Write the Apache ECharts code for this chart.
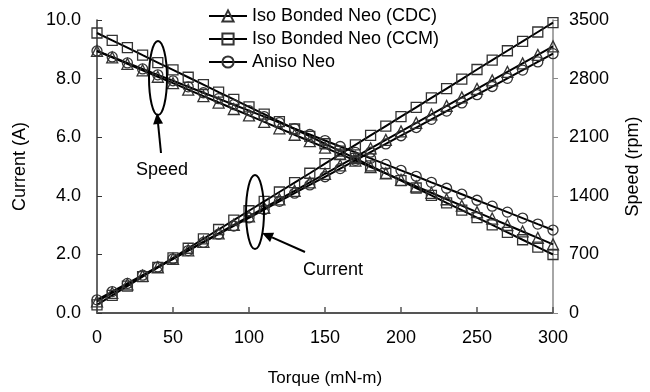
<!DOCTYPE html>
<html>
<head>
<meta charset="utf-8">
<script src="https://cdn.jsdelivr.net/npm/echarts@6/dist/echarts.min.js"></script>
<style>
  html, body { margin: 0; padding: 0; background: #fff; }
  #chart { width: 650px; height: 392px; }
</style>
</head>
<body>
<div id="chart"></div>
<script>
// torque steps (mN-m)
const torque = [0, 10, 20, 30, 40, 50, 60, 70, 80, 90, 100, 110, 120, 130, 140, 150,
  160, 170, 180, 190, 200, 210, 220, 230, 240, 250, 260, 270, 280, 290, 300]

const seriesNames = ['Iso Bonded Neo (CDC)', 'Iso Bonded Neo (CCM)', 'Aniso Neo']

// current (A)
const currentCDC = [0.40, 0.69, 0.98, 1.27, 1.56, 1.85, 2.14, 2.43, 2.72, 3.01, 3.30, 3.59, 3.88, 4.17, 4.46, 4.75,
  5.04, 5.33, 5.62, 5.91, 6.20, 6.49, 6.78, 7.07, 7.36, 7.65, 7.94, 8.23, 8.52, 8.81, 9.10]
const currentCCM = [0.28, 0.60, 0.92, 1.24, 1.56, 1.88, 2.21, 2.53, 2.85, 3.17, 3.49, 3.81, 4.13, 4.45, 4.77, 5.10,
  5.42, 5.74, 6.06, 6.38, 6.70, 7.02, 7.34, 7.66, 7.98, 8.31, 8.63, 8.95, 9.27, 9.59, 9.91]
const currentAniso = [0.45, 0.73, 1.01, 1.29, 1.57, 1.85, 2.13, 2.41, 2.69, 2.97, 3.25, 3.53, 3.81, 4.09, 4.37, 4.65,
  4.93, 5.21, 5.49, 5.77, 6.05, 6.33, 6.61, 6.89, 7.17, 7.45, 7.73, 8.01, 8.29, 8.57, 8.85]

// speed (rpm)
const speedCDC = [3130, 3053, 2976, 2899, 2822, 2745, 2668, 2591, 2514, 2437, 2360, 2283, 2206, 2129, 2052, 1975,
  1898, 1821, 1744, 1667, 1590, 1513, 1436, 1359, 1282, 1205, 1128, 1051, 974, 897, 820]
const speedCCM = [3345, 3257, 3169, 3080, 2992, 2904, 2816, 2728, 2639, 2551, 2463, 2375, 2287, 2198, 2110, 2022,
  1934, 1846, 1757, 1669, 1581, 1493, 1405, 1316, 1228, 1140, 1052, 964, 875, 787, 699]
const speedAniso = [3130, 3059, 2987, 2916, 2845, 2774, 2702, 2631, 2560, 2488, 2417, 2346, 2274, 2203, 2132, 2060,
  1989, 1918, 1847, 1775, 1704, 1633, 1561, 1490, 1419, 1347, 1276, 1205, 1134, 1062, 991]

const font = 'Arial, "Liberation Sans", sans-serif'
const symbols = ['triangle', 'rect', 'circle']

const chart = echarts.init(document.getElementById('chart'))

const makeSeries = (name, values, symbol, yAxisIndex) => ({
  name,
  type: 'line',
  yAxisIndex,
  data: torque.map((t, i) => [t, values[i]]),
  symbol,
  symbolSize: symbol === 'triangle' ? 11 : 10,
  showAllSymbol: true,
  lineStyle: { color: '#000', width: 2 },
  itemStyle: { color: 'rgba(255,255,255,0)', borderColor: '#333', borderWidth: 1.3 },
  emphasis: { disabled: true },
  animation: false
})

// arrow helper: line + filled head
const arrow = (x1, y1, x2, y2) => {
  const a = Math.atan2(y2 - y1, x2 - x1)
  const len = 11, half = 5
  const bx = x2 - len * Math.cos(a), by = y2 - len * Math.sin(a)
  const px = -Math.sin(a) * half, py = Math.cos(a) * half
  return [
    { type: 'line', shape: { x1, y1, x2: bx, y2: by }, style: { stroke: '#000', lineWidth: 2 } },
    { type: 'polygon', shape: { points: [[x2, y2], [bx + px, by + py], [bx - px, by - py]] }, style: { fill: '#000' } }
  ]
}

const option = {
  backgroundColor: '#fff',
  animation: false,
  grid: { left: 97, right: 94, top: 20, bottom: 78 },
  legend: {
    data: seriesNames,
    orient: 'vertical',
    left: 203,
    top: 2,
    itemWidth: 38,
    itemHeight: 14,
    itemGap: 5,
    textStyle: { fontFamily: font, fontSize: 18, color: '#000', lineHeight: 18 },
    selectedMode: false
  },
  xAxis: {
    type: 'value',
    min: 0,
    max: 300,
    interval: 50,
    name: 'Torque (mN-m)',
    nameLocation: 'middle',
    nameGap: 57,
    nameTextStyle: { fontFamily: font, fontSize: 17, color: '#000' },
    axisLine: { show: true, lineStyle: { color: '#555', width: 2 } },
    axisTick: { show: true, inside: true, length: 6, lineStyle: { color: '#555', width: 1.5 } },
    axisLabel: { fontFamily: font, fontSize: 18, color: '#000', margin: 16 },
    splitLine: { show: false }
  },
  yAxis: [
    {
      type: 'value',
      min: 0,
      max: 10,
      interval: 2,
      name: 'Current (A)',
      nameLocation: 'middle',
      nameRotate: 90,
      nameGap: 68,
      nameTextStyle: { fontFamily: font, fontSize: 18, color: '#000' },
      axisLine: { show: true, lineStyle: { color: '#333', width: 1.5 } },
      axisTick: { show: true, inside: true, length: 5, lineStyle: { color: '#333' } },
      axisLabel: { fontFamily: font, fontSize: 18, color: '#000', margin: 16, formatter: v => v.toFixed(1) },
      splitLine: { show: false }
    },
    {
      type: 'value',
      position: 'right',
      min: 0,
      max: 3500,
      interval: 700,
      name: 'Speed (rpm)',
      nameLocation: 'middle',
      nameRotate: 90,
      nameGap: 71,
      nameTextStyle: { fontFamily: font, fontSize: 18, color: '#000' },
      axisLine: { show: true, lineStyle: { color: '#888', width: 1.5 } },
      axisTick: { show: true, inside: false, length: 5, lineStyle: { color: '#888' } },
      axisLabel: { fontFamily: font, fontSize: 18, color: '#000', margin: 16, formatter: v => String(v) },
      splitLine: { show: false }
    }
  ],
  series: [
    makeSeries(seriesNames[0], currentCDC, symbols[0], 0),
    makeSeries(seriesNames[1], currentCCM, symbols[1], 0),
    makeSeries(seriesNames[2], currentAniso, symbols[2], 0),
    makeSeries(seriesNames[0], speedCDC, symbols[0], 1),
    makeSeries(seriesNames[1], speedCCM, symbols[1], 1),
    makeSeries(seriesNames[2], speedAniso, symbols[2], 1)
  ],
  graphic: [
    // 转速标注
    { type: 'ellipse', shape: { cx: 158, cy: 78, rx: 9, ry: 37 }, style: { fill: 'none', stroke: '#000', lineWidth: 2 }, z: 100 },
    ...arrow(161, 153, 157, 113),
    { type: 'text', x: 162, y: 170, style: { text: 'Speed', fontFamily: font, fontSize: 18, fill: '#000', align: 'center', verticalAlign: 'middle' }, z: 100 },
    // 电流标注
    { type: 'ellipse', shape: { cx: 255, cy: 212, rx: 9, ry: 37 }, style: { fill: 'none', stroke: '#000', lineWidth: 2 }, z: 100 },
    ...arrow(305, 252, 262, 233),
    { type: 'text', x: 333, y: 270, style: { text: 'Current', fontFamily: font, fontSize: 18, fill: '#000', align: 'center', verticalAlign: 'middle' }, z: 100 }
  ]
}

chart.setOption(option)
</script>
</body>
</html>
